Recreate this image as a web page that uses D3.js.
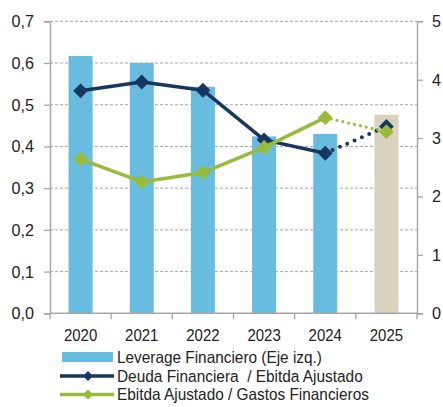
<!DOCTYPE html>
<html><head><meta charset="utf-8">
<script src="https://cdn.jsdelivr.net/npm/d3@7"></script>
<style>
body{margin:0;background:#fff;}
svg text{font-family:"Liberation Sans",Arial,sans-serif;fill:#222;white-space:pre;}
</style></head><body>
<svg id="c" width="443" height="407"></svg>
<script>
const years = ["2020","2021","2022","2023","2024","2025"];
const leverage = [0.617, 0.600, 0.543, 0.424, 0.430, 0.476];
const deudaEbitda = [3.81, 3.96, 3.82, 2.97, 2.74, 3.20];
const ebitdaGastos = [2.64, 2.25, 2.41, 2.84, 3.35, 3.11];
const leftTicks = [0,0.1,0.2,0.3,0.4,0.5,0.6,0.7];
const rightTicks = [0,1,2,3,4,5];
const legendLabels = ["Leverage Financiero (Eje izq.)","Deuda Financiera  / Ebitda Ajustado","Ebitda Ajustado / Gastos Financieros"];

const svg = d3.select("#c");
const L=50, R=417, T=21.3, B=313.3;
const xb = d3.scaleBand().domain(years).range([L,R]);
const yL = d3.scaleLinear().domain([0,0.7]).range([B,T]);
const yR = d3.scaleLinear().domain([0,5]).range([B,T]);
const fmt = d => d3.format(".1f")(d).replace(".",",");

function squeeze(sel, s){
  sel.each(function(){
    const t=d3.select(this); const x=+(t.attr("x")||0);
    t.attr("transform",`translate(${x},0) scale(${s},1) translate(${-x},0)`);
  });
}

// grid
svg.append("g").selectAll("line").data(leftTicks.filter(d=>d>0)).join("line")
  .attr("x1",L).attr("x2",R).attr("y1",d=>yL(d)).attr("y2",d=>yL(d))
  .attr("stroke","#a6a6a6").attr("stroke-width",1).attr("stroke-dasharray","3,2");

// bars
svg.append("g").selectAll("rect").data(years).join("rect")
  .attr("x",d=>xb(d)+xb.bandwidth()/2-12).attr("width",24)
  .attr("y",(d,i)=>yL(leverage[i])).attr("height",(d,i)=>B-yL(leverage[i]))
  .attr("fill",(d,i)=>i===5?"#d8d3bd":"#68bce0");

// axes
const axL = svg.append("g").attr("transform",`translate(${L},0)`)
  .call(d3.axisLeft(yL).tickValues(leftTicks).tickFormat(fmt).tickSize(6).tickPadding(10));
const axR = svg.append("g").attr("transform",`translate(${R},0)`)
  .call(d3.axisRight(yR).tickValues(rightTicks).tickFormat(d3.format("d")).tickSize(6).tickPadding(9));
const axB = svg.append("g").attr("transform",`translate(0,${B})`)
  .call(d3.axisBottom(xb).tickSize(0).tickPadding(16));
svg.append("g").selectAll("line").data(years.concat(["end"])).join("line")
  .attr("x1",(d,i)=>L+i*xb.bandwidth()).attr("x2",(d,i)=>L+i*xb.bandwidth())
  .attr("y1",B).attr("y2",B+6).attr("stroke","#a6a6a6").attr("stroke-width",1.3);
[axL,axR,axB].forEach(a=>{
  a.selectAll("path").attr("stroke","#a6a6a6").attr("stroke-width",1.5);
  a.selectAll(".tick line").attr("stroke","#a6a6a6").attr("stroke-width",1.3);
  a.selectAll("text").attr("font-size",17).attr("fill","#222");
});
axB.select("path").attr("d",`M${L},0H${R}`);
squeeze(axL.selectAll("text"),0.95);
squeeze(axR.selectAll("text"),0.95);
squeeze(axB.selectAll("text"),0.88);

const cx = d => xb(d)+xb.bandwidth()/2;
function drawSeries(vals,color,dotW,dotDash,msize){
  const solid = d3.line().x((d,i)=>cx(years[i])).y(d=>yR(d));
  svg.append("path").attr("d",solid(vals.slice(0,5))).attr("fill","none")
    .attr("stroke",color).attr("stroke-width",3.5).attr("stroke-linejoin","round");
  svg.append("path").attr("d",d3.line().x(d=>cx(d[0])).y(d=>yR(d[1]))([[years[4],vals[4]],[years[5],vals[5]]]))
    .attr("fill","none").attr("stroke",color).attr("stroke-width",dotW)
    .attr("stroke-dasharray",dotDash).attr("stroke-linecap","round");
  svg.append("g").selectAll("path").data(vals).join("path")
    .attr("d",d3.symbol(d3.symbolSquare, msize)())
    .attr("transform",(d,i)=>`translate(${cx(years[i])},${yR(d)}) rotate(45)`)
    .attr("fill",color);
}
drawSeries(deudaEbitda,"#17375e",4,"0,8",110);
drawSeries(ebitdaGastos,"#98bb3b",3.2,"0,6",110);

// legend
const lg = svg.append("g");
lg.append("rect").attr("x",62).attr("y",352).attr("width",51).attr("height",10).attr("fill","#68bce0");
const legY=[357.5,376,394.5];
const legC=[null,"#17375e","#98bb3b"];
[1,2].forEach(k=>{
  lg.append("line").attr("x1",60).attr("x2",114).attr("y1",legY[k]).attr("y2",legY[k])
    .attr("stroke",legC[k]).attr("stroke-width",3.5);
  lg.append("path").attr("d",d3.symbol(d3.symbolSquare,50)())
    .attr("transform",`translate(88,${legY[k]}) rotate(45)`).attr("fill",legC[k]);
});
const legEnd=[322,363,369];
const lt = lg.selectAll("text").data(legendLabels).join("text")
  .attr("x",117).attr("y",(d,i)=>legY[i]+6).attr("font-size",16.5).text(d=>d);
lt.each(function(d,i){
  const w=this.getComputedTextLength();
  const s = (legEnd[i]-117)/w;
  d3.select(this).attr("transform",`translate(117,0) scale(${s},1) translate(-117,0)`);
});
</script></body></html>
